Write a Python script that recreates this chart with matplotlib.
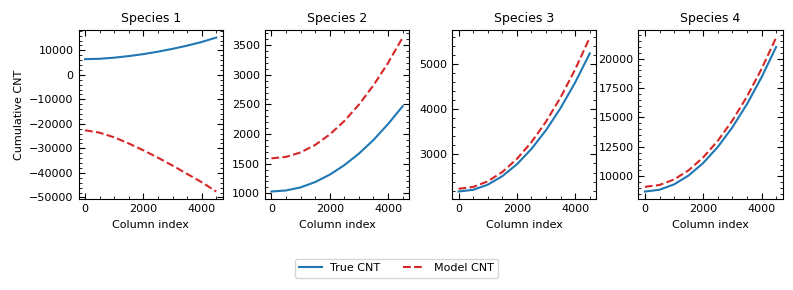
import matplotlib
matplotlib.use("Agg")
import matplotlib.pyplot as plt
from matplotlib.ticker import AutoMinorLocator

# column index samples
col_idx = [0, 500, 1000, 1500, 2000, 2500, 3000, 3500, 4000, 4500]

species = ["Species 1", "Species 2", "Species 3", "Species 4"]

true_s1 = [6400, 6550, 7000, 7650, 8450, 9450, 10600, 11900, 13400, 15200]
model_s1 = [-22600, -23600, -25500, -28000, -30800, -33800, -37000, -40400, -43800, -47600]

true_s2 = [1030, 1048, 1100, 1190, 1315, 1475, 1670, 1900, 2170, 2470]
model_s2 = [1590, 1615, 1690, 1817, 1993, 2220, 2497, 2824, 3202, 3630]

true_s3 = [2180, 2218, 2331, 2519, 2782, 3121, 3536, 4025, 4590, 5230]
model_s3 = [2240, 2281, 2405, 2611, 2900, 3271, 3724, 4260, 4879, 5580]

true_s4 = [8700, 8852, 9307, 10067, 11130, 12496, 14167, 16141, 18419, 21000]
model_s4 = [9100, 9257, 9727, 10511, 11609, 13020, 14744, 16782, 19134, 21800]

true_all = [true_s1, true_s2, true_s3, true_s4]
model_all = [model_s1, model_s2, model_s3, model_s4]

plt.rcParams['font.family'] = ['DejaVu Sans']
plt.rcParams['font.size'] = 8

fig = plt.figure(figsize=(7.93, 2.9), dpi=100)
lefts = [0.099, 0.334, 0.570, 0.805]
width = 0.182
bottom, height = 0.313, 0.584

for i, name in enumerate(species):
    ax = fig.add_axes([lefts[i], bottom, width, height])
    ax.plot(col_idx, true_all[i], color='#1f77b4', lw=1.5, label='True CNT')
    ax.plot(col_idx, model_all[i], color='#d62728', lw=1.5, ls='--', label='Model CNT')
    ax.set_title(name, fontsize=9)
    ax.set_xlabel('Column index', fontsize=8)
    ax.set_xticks([0, 2000, 4000])
    ax.xaxis.set_minor_locator(AutoMinorLocator())
    ax.yaxis.set_minor_locator(AutoMinorLocator())
    ax.tick_params(which='both', direction='in', top=True, right=True, labelsize=8)
    ax.tick_params(which='major', length=4)
    ax.tick_params(which='minor', length=2)
    if i == 0:
        ax.set_ylabel('Cumulative CNT', fontsize=8)
    handles, labels = ax.get_legend_handles_labels()

fig.legend(handles, labels, loc='center', ncol=2, bbox_to_anchor=(0.5, 0.075),
           fontsize=8, frameon=True)

plt.savefig('out.png', dpi=100)
